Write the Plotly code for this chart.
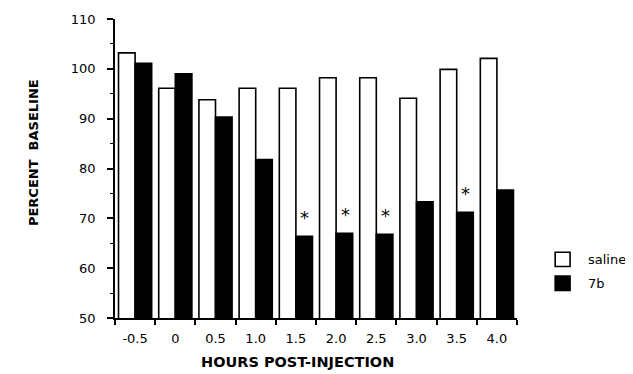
import plotly.graph_objects as go

hours = ["-0.5", "0", "0.5", "1.0", "1.5", "2.0", "2.5", "3.0", "3.5", "4.0"]
saline = [103.2, 96.1, 93.8, 96.1, 96.1, 98.2, 98.2, 94.1, 99.9, 102.1]
drug_7b = [101.1, 99.0, 90.3, 81.8, 66.4, 67.0, 66.8, 73.3, 71.2, 75.7]
significant = [False, False, False, False, True, True, True, False, True, False]
series_names = ["saline", "7b"]
series_fill = ["white", "black"]

FONT = "DejaVu Sans, Liberation Sans, Arial, sans-serif"

fig = go.Figure()
for name, vals, fill in zip(series_names, [saline, drug_7b], series_fill):
    fig.add_trace(go.Bar(
        x=hours, y=vals, name=name, showlegend=False,
        marker=dict(color=fill, line=dict(color="black", width=1.6)),
    ))

for i, (v, s) in enumerate(zip(drug_7b, significant)):
    if s:
        fig.add_annotation(
            x=i, y=v, text="*", showarrow=False, xshift=9,
            yanchor="bottom", yshift=6,
            font=dict(family=FONT, size=18, color="black"),
        )

# custom legend (boxes + labels)
for k, (name, fill) in enumerate(zip(series_names, series_fill)):
    ycen = 0.196 - k * 0.080
    fig.add_shape(
        type="rect", xref="paper", yref="paper",
        x0=1.095, x1=1.132, y0=ycen - 0.024, y1=ycen + 0.024,
        fillcolor=fill, line=dict(color="black", width=1.6),
    )
    fig.add_annotation(
        xref="paper", yref="paper", x=1.172, y=ycen, text=name,
        showarrow=False, xanchor="left", yanchor="middle",
        font=dict(family=FONT, size=13, color="black"),
    )

fig.add_annotation(
    xref="paper", yref="paper", x=-0.204, y=0.555, text="<b>PERCENT  BASELINE</b>",
    textangle=-90, showarrow=False, xanchor="center", yanchor="middle",
    font=dict(family=FONT, size=13, color="black"),
)
fig.add_annotation(
    xref="paper", yref="paper", x=0.455, y=-0.147, text="<b>HOURS POST-INJECTION</b>",
    showarrow=False, xanchor="center", yanchor="middle",
    font=dict(family=FONT, size=14.5, color="black"),
)

# page body has an 8px margin: figure sized/margined so the plot lands at 115..517 x 19..318
fig.update_layout(
    width=625, height=366,
    margin=dict(l=107, r=116, t=11, b=56, autoexpand=False),
    paper_bgcolor="white", plot_bgcolor="white",
    barmode="group", bargap=0.175, bargroupgap=0.0,
    font=dict(family=FONT, size=13, color="black"),
    showlegend=False,
)
fig.update_xaxes(
    type="category", showline=True, linecolor="black", linewidth=1.5,
    ticks="outside", tickson="boundaries", ticklen=5, tickwidth=1.5, tickcolor="black",
    showgrid=False, zeroline=False, automargin=False, ticklabelstandoff=8,
    tickfont=dict(family=FONT, size=13, color="black"),
)
fig.update_yaxes(
    range=[50, 110], dtick=10, tick0=50,
    showline=True, linecolor="black", linewidth=1.5,
    ticks="outside", ticklen=6, tickwidth=1.5, tickcolor="black",
    minor=dict(dtick=5, ticks="outside", ticklen=3, tickwidth=1, tickcolor="black"),
    showgrid=False, zeroline=False, ticklabelstandoff=9, automargin=False,
    tickfont=dict(family=FONT, size=13, color="black"),
)

fig.write_html("out.html")
